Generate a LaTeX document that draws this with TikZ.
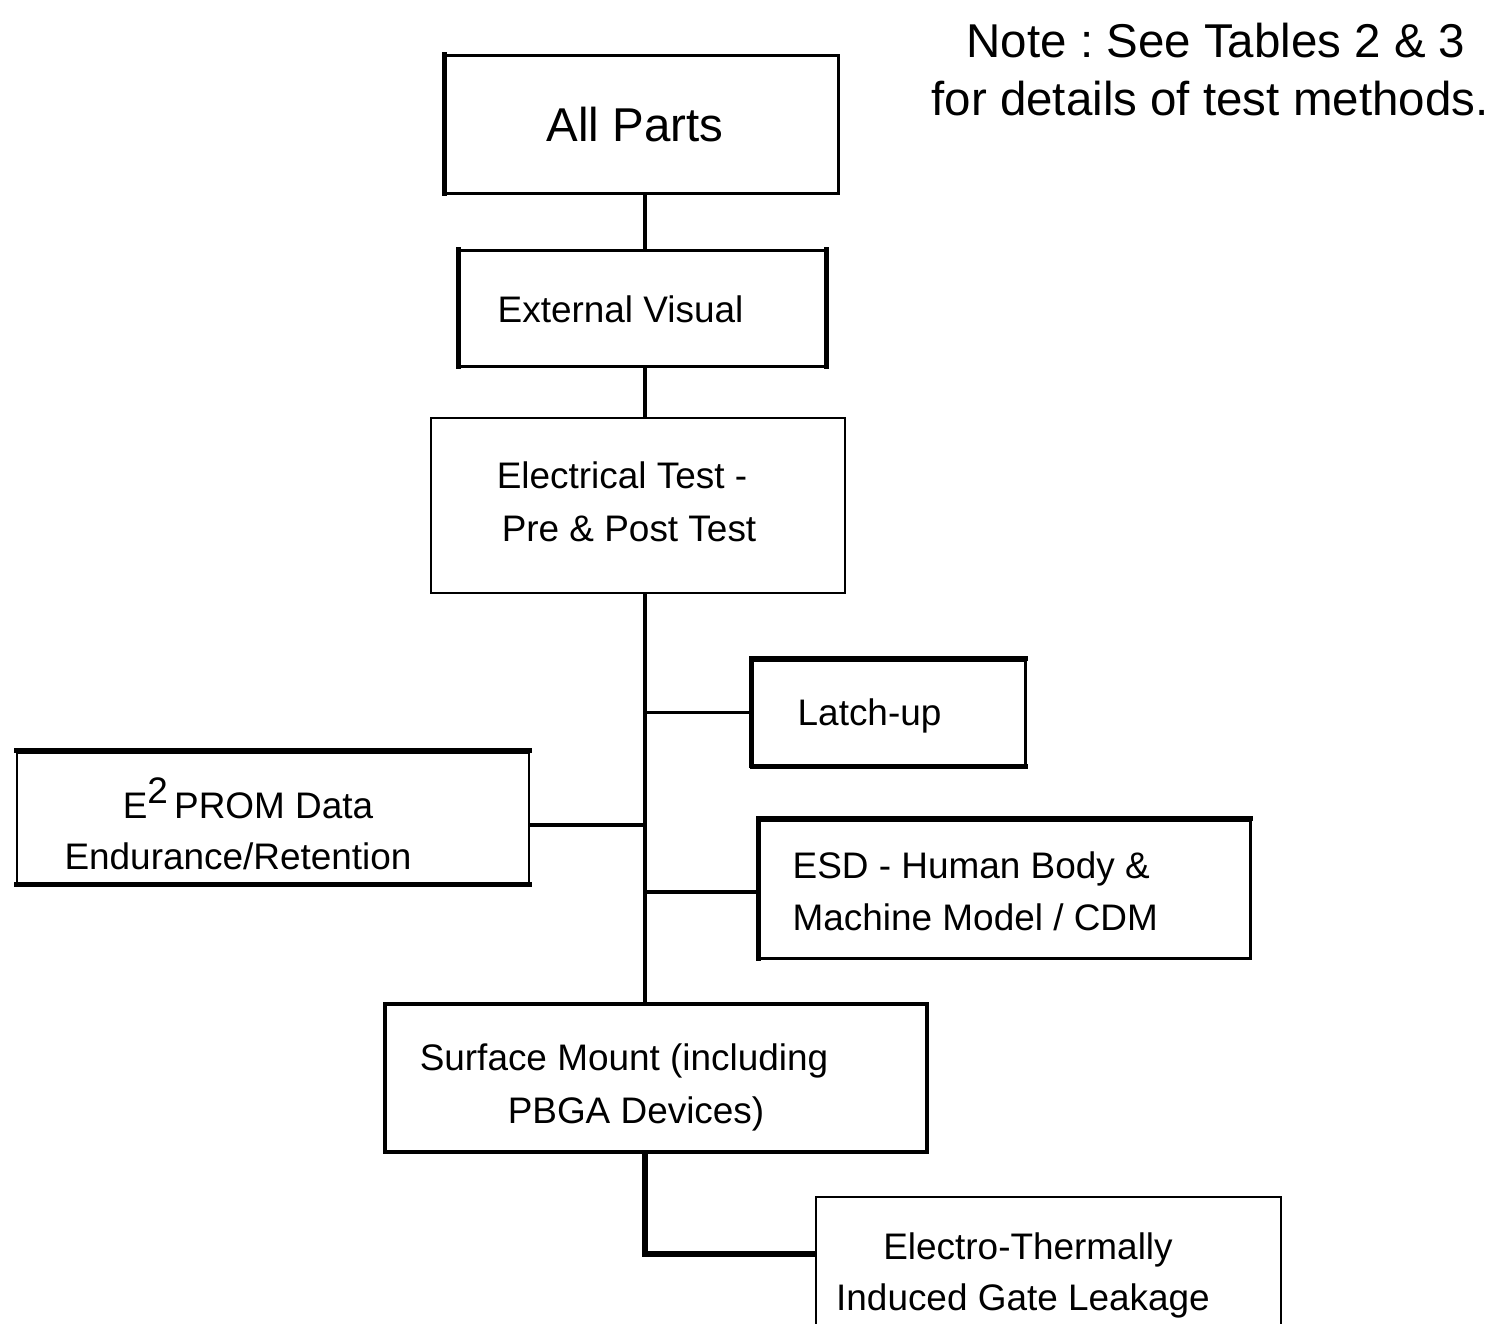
\documentclass[tikz,border=0pt]{standalone}
\usepackage{fontspec}
\setmainfont{Liberation Sans}
\usetikzlibrary{fit}
\frenchspacing
\begin{document}
\begin{tikzpicture}[x=0.01cm,y=-0.01cm,
  box/.style={draw, line width=0.85pt, inner sep=0pt},
  thinbox/.style={box, line width=0.7pt},
  heavybox/.style={box, line width=1.25pt},
  heavy/.style={line width=1.5pt, line cap=butt, shorten <=-0.42pt, shorten >=-0.42pt},
  wire/.style={line width=0.9pt},
  heavywire/.style={line width=1.5pt},
  lbl/.style={inner sep=0pt, font=\fontsize{10.5pt}{12pt}\selectfont},
  biglbl/.style={inner sep=0pt, font=\fontsize{13.5pt}{16pt}\selectfont}]
\useasboundingbox (0,0) rectangle (1499,1323);
\clip (0,0) rectangle (1499,1323);

% boxes
\node[box, fit={(446,55) (838,193)}] (ap) {};
\node[box, fit={(460,250) (825,366)}] (ev) {};
\node[thinbox, fit={(431,418) (845,593)}] (et) {};
\node[box, fit={(753,660) (1025,765)}] (lu) {};
\node[box, fit={(17,752) (529,883)}] (ee) {};
\node[box, fit={(760,820) (1250,958)}] (esd) {};
\node[heavybox, fit={(385,1004) (927,1152)}] (sm) {};
\node[thinbox, fit={(816,1197) (1281,1345)}] (etl) {};

% heavier edges
\draw[heavy] (ap.north west) -- (ap.south west);
\draw[heavy] (ev.north west) -- (ev.south west);
\draw[heavy] (ev.north east) -- (ev.south east);
\draw[heavy] (lu.south west) -- (lu.north west) -- (lu.north east);
\draw[heavy] (lu.south west) -- (lu.south east);
\draw[heavy] (ee.north west) -- (ee.north east);
\draw[heavy] (ee.south west) -- (ee.south east);
\draw[heavy] (esd.south west) -- (esd.north west) -- (esd.north east);

% texts
\node[biglbl, anchor=base] (ap-t) at (635,141) {All Parts};
\node[lbl, anchor=base west] (ev-t) at (497,322) {External Visual};
\node[lbl, anchor=base] (et-t1) at (622,488) {Electrical Test -};
\node[lbl, anchor=base] (et-t2) at (629,541) {Pre \& Post Test};
\node[lbl, anchor=base west] (lu-t) at (797,725) {Latch-up};
\node[lbl, anchor=base] (ee-t1) at (248,818) {E\raisebox{4pt}{2}\,PROM Data};
\node[lbl, anchor=base] (ee-t2) at (238,869) {Endurance/Retention};
\node[lbl, anchor=base west] (esd-t1) at (792,878) {ESD - Human Body \&};
\node[lbl, anchor=base west] (esd-t2) at (792,930) {Machine Model / CDM};
\node[lbl, anchor=base] (sm-t1) at (624,1070) {Surface Mount (including};
\node[lbl, anchor=base] (sm-t2) at (636,1123) {PBGA Devices)};
\node[lbl, anchor=base] (etl-t1) at (1028,1259) {Electro-Thermally};
\node[lbl, anchor=base] (etl-t2) at (1023,1310) {Induced Gate Leakage};
\node[biglbl, anchor=base] (note1) at (1216,57) {Note : See Tables 2 \& 3};
\node[biglbl, anchor=base] (note2) at (1210,115) {for details of test methods.};

% connectors
\coordinate (tr) at (645,0);
\draw[wire] (ap.south -| tr) -- (ev.north -| tr);
\draw[wire] (ev.south -| tr) -- (et.north -| tr);
\draw[wire] (et.south -| tr) -- (sm.north -| tr);
\draw[wire] (lu.west -| tr) -- (lu.west);
\draw[wire] ([yshift=-0.075cm]ee.east) -- ([yshift=-0.075cm]ee.east -| tr);
\draw[wire] ([yshift=-0.03cm]esd.west -| tr) -- ([yshift=-0.03cm]esd.west);
\draw[heavywire] (sm.south -| tr) |- ([yshift=0.17cm]etl.west);
\end{tikzpicture}
\end{document}
